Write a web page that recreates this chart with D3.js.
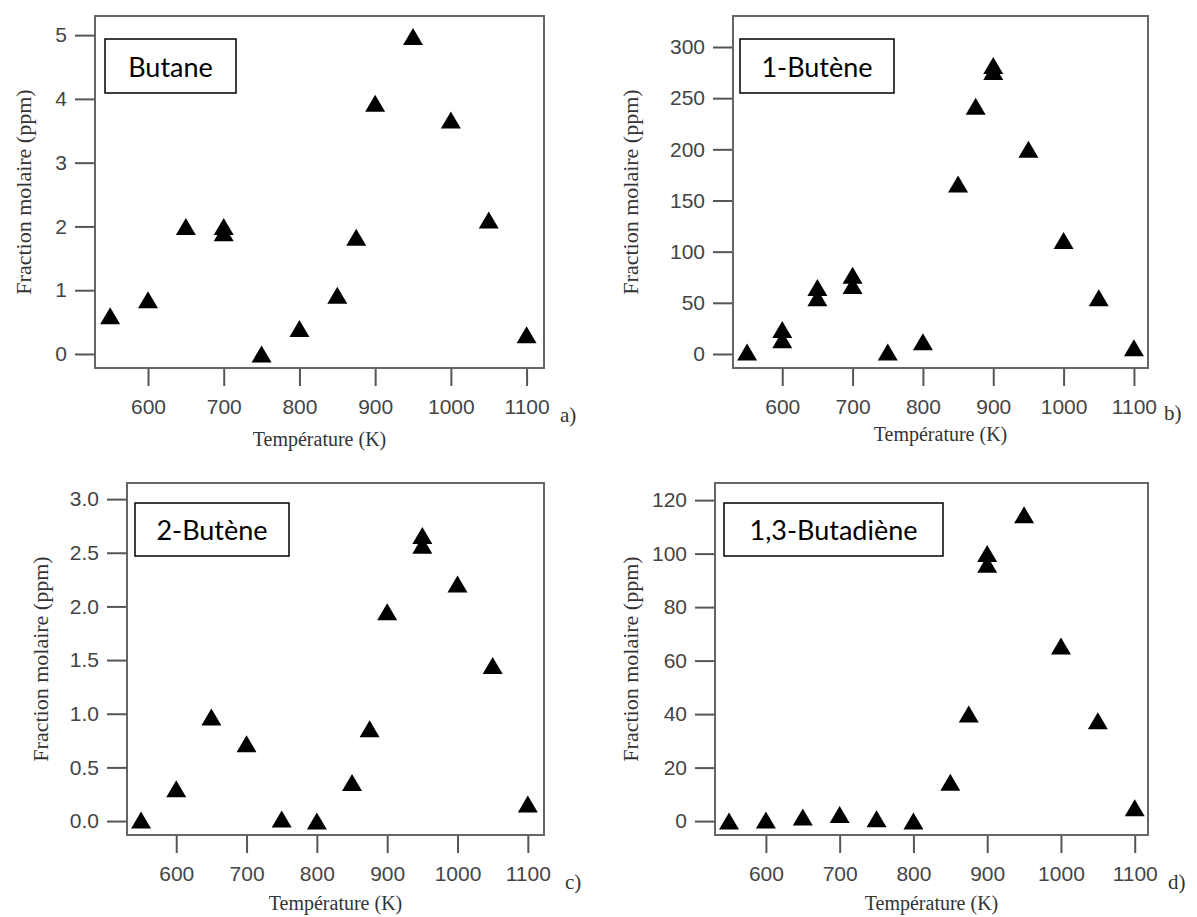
<!DOCTYPE html>
<html>
<head>
<meta charset="utf-8">
<script src="https://cdn.jsdelivr.net/npm/d3@7"></script>
<style>
  body { margin: 0; background: #fff; }
</style>
</head>
<body>
<div id="chart"></div>
<script>
// values (K, ppm)
const tempsButane = [550, 600, 650, 700, 700, 750, 800, 850, 875, 900, 950, 1000, 1050, 1100];
const butane = [0.6, 0.85, 2.0, 2.0, 1.9, 0.0, 0.4, 0.92, 1.83, 3.93, 4.98, 3.67, 2.1, 0.3];

const tempsButene1 = [550, 600, 600, 650, 650, 700, 700, 750, 800, 850, 875, 900, 900, 950, 1000, 1050, 1100];
const butene1 = [2, 24, 14, 65, 55, 77, 67, 2, 12, 166, 242, 282, 276, 200, 111, 55, 6];

const tempsButene2 = [550, 600, 650, 700, 750, 800, 850, 875, 900, 950, 950, 1000, 1050, 1100];
const butene2 = [0.01, 0.3, 0.97, 0.72, 0.02, 0.0, 0.36, 0.86, 1.95, 2.66, 2.57, 2.21, 1.45, 0.16];

const tempsButadiene = [550, 600, 650, 700, 750, 800, 850, 875, 900, 900, 950, 1000, 1050, 1100];
const butadiene = [0, 0.4, 1.5, 2.5, 0.9, 0, 14.5, 40, 100, 96, 114.5, 65.5, 37.5, 5];

const xTicks = [600, 700, 800, 900, 1000, 1100];
const yTicksButane = [0, 1, 2, 3, 4, 5];
const yTicksButene1 = [0, 50, 100, 150, 200, 250, 300];
const yTicksButene2 = [0, 0.5, 1.0, 1.5, 2.0, 2.5, 3.0];
const yTicksButadiene = [0, 20, 40, 60, 80, 100, 120];

const names = ["Butane", "1-Butène", "2-Butène", "1,3-Butadiène"];
const letters = ["a)", "b)", "c)", "d)"];
const xTitle = "Température (K)";
const yTitle = "Fraction molaire (ppm)";

const width = 1197, height = 917;

// layout of each panel (frame in px, axis ranges)
const panels = [
  { temps: tempsButane, vals: butane, yTicks: yTicksButane, fmt: d3.format("d"),
    frame: [95, 544, 16, 368], xDom: [530, 1123], yDom: [-0.22, 5.3],
    box: [105, 236, 39, 93], yTitleX: 26, xTitleY: 441, letter: [560, 417] },
  { temps: tempsButene1, vals: butene1, yTicks: yTicksButene1, fmt: d3.format("d"),
    frame: [733, 1148, 16, 368], xDom: [530, 1120], yDom: [-13.7, 330.3],
    box: [740, 894, 39, 93], yTitleX: 633, xTitleY: 436, letter: [1164, 415] },
  { temps: tempsButene2, vals: butene2, yTicks: yTicksButene2, fmt: d3.format(".1f"),
    frame: [127, 544, 483, 835], xDom: [530, 1123], yDom: [-0.13, 3.15],
    box: [135, 289, 503, 556], yTitleX: 43, xTitleY: 905, letter: [565, 884] },
  { temps: tempsButadiene, vals: butadiene, yTicks: yTicksButadiene, fmt: d3.format("d"),
    frame: [715, 1148, 483, 835], xDom: [531, 1118], yDom: [-5.2, 126.4],
    box: [724, 943, 503, 556], yTitleX: 633, xTitleY: 905, letter: [1168, 884] }
];

const svg = d3.select("#chart").append("svg")
  .attr("width", width)
  .attr("height", height);

// up-pointing triangle, centred on its bounding box
const triW = 20, triH = 17;
const tri = `M0,${-triH / 2}L${triW / 2},${triH / 2}L${-triW / 2},${triH / 2}Z`;

panels.forEach((p, i) => {
  const [fx0, fx1, fy0, fy1] = p.frame;
  const x = d3.scaleLinear().domain(p.xDom).range([fx0, fx1]);
  const y = d3.scaleLinear().domain(p.yDom).range([fy1, fy0]);

  const g = svg.append("g");

  // axes
  const yAxis = g.append("g")
    .attr("transform", `translate(${fx0},0)`)
    .call(d3.axisLeft(y).tickValues(p.yTicks).tickFormat(p.fmt).tickSize(20).tickPadding(8));
  const xAxis = g.append("g")
    .attr("transform", `translate(0,${fy1})`)
    .call(d3.axisBottom(x).tickValues(xTicks).tickFormat(d3.format("d")).tickSize(18).tickPadding(13));

  [yAxis, xAxis].forEach(a => {
    a.select(".domain").remove();
    a.selectAll(".tick line").attr("stroke", "#555").attr("stroke-width", 2);
    a.selectAll(".tick text")
      .attr("fill", "#444")
      .style("font-family", "'Liberation Sans', Arial, sans-serif")
      .style("font-size", "21px");
  });

  // frame
  g.append("rect")
    .attr("x", fx0).attr("y", fy0)
    .attr("width", fx1 - fx0).attr("height", fy1 - fy0)
    .attr("fill", "none")
    .attr("stroke", "#666")
    .attr("stroke-width", 2);

  // points
  g.selectAll(".pt")
    .data(p.temps.map((t, k) => ({ t, v: p.vals[k] })))
    .enter()
    .append("path")
    .attr("class", "pt")
    .attr("d", tri)
    .attr("transform", d => `translate(${x(d.t)},${y(d.v)})`)
    .attr("fill", "#000");

  // axis titles
  g.append("text")
    .attr("x", (fx0 + fx1) / 2)
    .attr("y", p.xTitleY)
    .attr("text-anchor", "middle")
    .attr("dominant-baseline", "middle")
    .attr("fill", "#333")
    .style("font-family", "'Liberation Serif', 'Times New Roman', serif")
    .style("font-size", "20px")
    .text(xTitle);

  g.append("text")
    .attr("transform", `translate(${p.yTitleX},${(fy0 + fy1) / 2}) rotate(-90)`)
    .attr("text-anchor", "middle")
    .attr("dominant-baseline", "middle")
    .attr("fill", "#333")
    .style("font-family", "'Liberation Serif', 'Times New Roman', serif")
    .style("font-size", "22px")
    .text(yTitle);

  // panel letter
  g.append("text")
    .attr("x", p.letter[0])
    .attr("y", p.letter[1])
    .attr("dominant-baseline", "middle")
    .attr("fill", "#333")
    .style("font-family", "'Liberation Serif', 'Times New Roman', serif")
    .style("font-size", "21px")
    .text(letters[i]);

  // species label box
  const [bx0, bx1, by0, by1] = p.box;
  g.append("rect")
    .attr("x", bx0).attr("y", by0)
    .attr("width", bx1 - bx0).attr("height", by1 - by0)
    .attr("fill", "#fff")
    .attr("stroke", "#000")
    .attr("stroke-width", 1.5);
  g.append("text")
    .attr("x", (bx0 + bx1) / 2)
    .attr("y", (by0 + by1) / 2)
    .attr("text-anchor", "middle")
    .attr("dominant-baseline", "central")
    .attr("fill", "#000")
    .style("font-family", "Lato, 'Open Sans', sans-serif")
    .style("font-size", "27px")
    .text(names[i]);
});
</script>
</body>
</html>
